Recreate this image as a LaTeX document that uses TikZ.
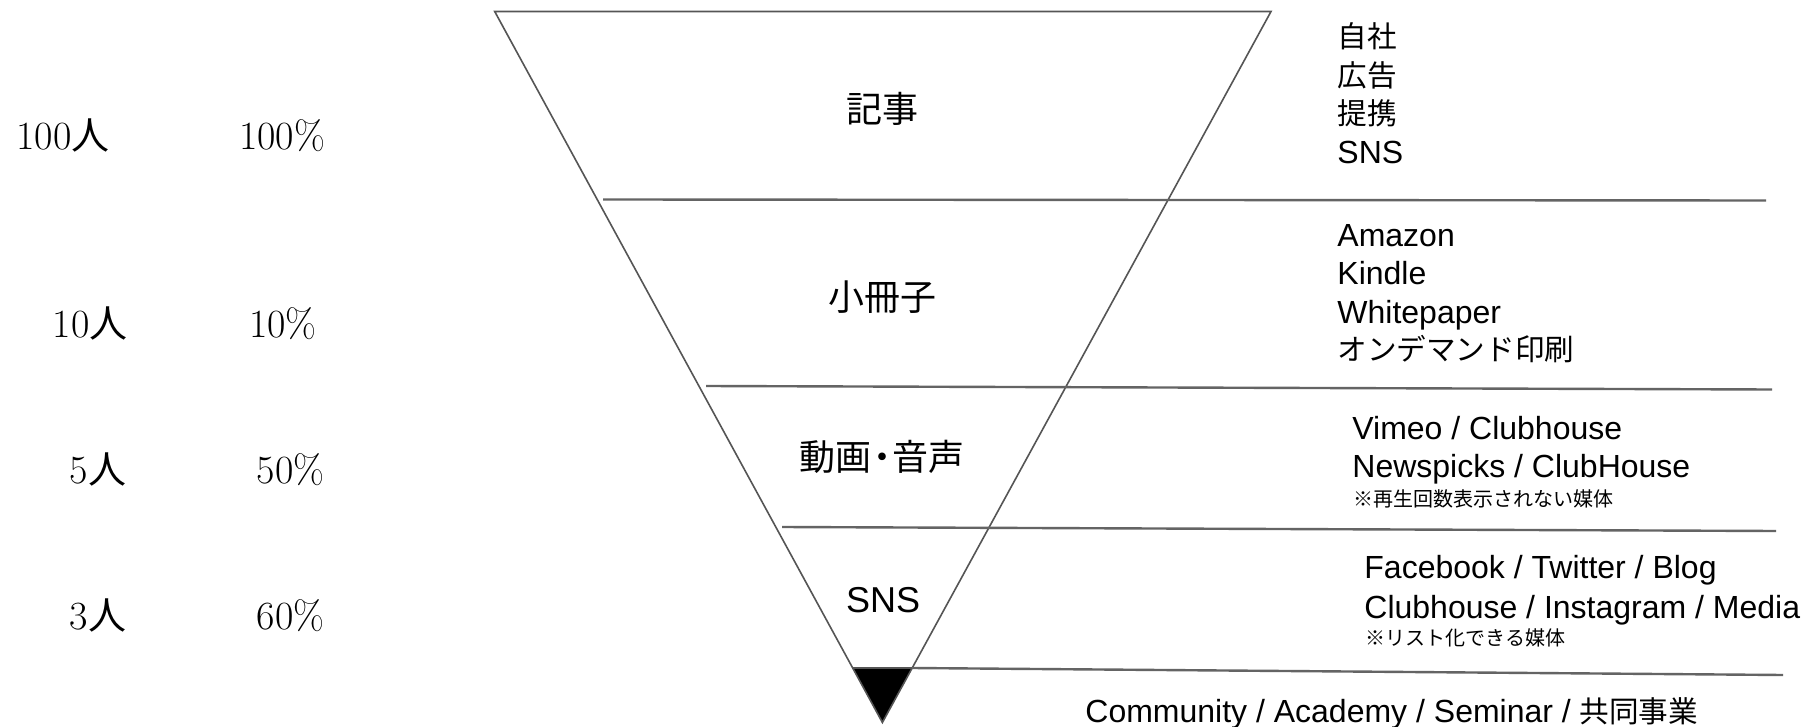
\documentclass[tikz,border=0pt]{standalone}
\usepackage{fontspec}
\setmainfont{Liberation Sans}
\newfontfamily\jp{Noto Sans CJK JP}
\newfontfamily\lmr{Latin Modern Roman}
\definecolor{edgegray}{RGB}{85,85,85}
\definecolor{sepgray}{RGB}{100,100,100}
\newcommand{\jpr}{\jp\fontsize{14.8pt}{19pt}\selectfont}
\tikzset{
  funnel/.style={draw=edgegray, line width=0.8pt, line join=miter},
  sepline/.style={draw=sepgray, line width=1.2pt},
  rtext/.style={anchor=base west, inner sep=0pt, font=\fontsize{16pt}{19pt}\selectfont},
  flabel/.style={anchor=base, inner sep=0pt, font=\fontsize{18pt}{22pt}\selectfont},
  note/.style={anchor=base west, inner sep=0pt, font=\jp\fontsize{10pt}{12pt}\selectfont},
  lnum/.style={anchor=base, inner sep=0pt, font=\lmr\fontsize{20pt}{24pt}\selectfont}
}
\begin{document}
\begin{tikzpicture}[x=0.5pt,y=-0.5pt]
\useasboundingbox (0,0) rectangle (1804,727);
\fill[white] (0,0) rectangle (1804,727);

% funnel
\coordinate (TL) at (494.7,11.5);
\coordinate (TR) at (1271,11.5);
\coordinate (AP) at (882.4,722.5);
\coordinate (BL) at (852.6,668);
\coordinate (BR) at (912.2,668);
\fill[black] (BL) -- (BR) -- (AP) -- cycle;
\draw[funnel] (TL) -- (TR) -- (AP) -- cycle;
\draw[funnel] (BL) -- (BR);

% separator lines
\coordinate (S1a) at (603,199.5);  \coordinate (S1b) at (1766,200.5);
\coordinate (S2a) at (706,386);    \coordinate (S2b) at (1772,389.5);
\coordinate (S3a) at (782,527);    \coordinate (S3b) at (1776,531);
\coordinate (S4b) at (1783,675);
\draw[sepline] (S1a) -- (S1b);
\draw[sepline] (S2a) -- (S2b);
\draw[sepline] (S3a) -- (S3b);
\draw[sepline] (BR) -- (S4b);

% funnel labels
\node[flabel] (f1) at (882,123) {\jp 記事};
\node[flabel] (f2) at (882,311) {\jp 小冊子};
\node[flabel] (f3) at (882,470) {\jp 動画\kern-0.2em・\kern-0.2em音声};
\node[flabel] (f4) at (883,612) {SNS};

% left numbers
\node[lnum] (n1) at (63,150) {100{\jp\fontsize{19pt}{24pt}\selectfont 人}};
\node[lnum] (n2) at (90,337) {10{\jp\fontsize{19pt}{24pt}\selectfont 人}};
\node[lnum] (n3) at (98,483) {5{\jp\fontsize{19pt}{24pt}\selectfont 人}};
\node[lnum] (n4) at (98,629) {3{\jp\fontsize{19pt}{24pt}\selectfont 人}};
\node[lnum] (p1) at (282,150) {100\%};
\node[lnum] (p2) at (283,337) {10\%};
\node[lnum] (p3) at (290.5,483) {50\%};
\node[lnum] (p4) at (290.5,629) {60\%};

% right texts, group 1
\node[rtext] (a1) at (1337,48) {\jpr 自社};
\node[rtext] (a2) at (1337,86.5) {\jpr 広告};
\node[rtext] (a3) at (1337,125) {\jpr 提携};
\node[rtext] (a4) at (1337,164) {SNS};
% group 2
\node[rtext] (b1) at (1337,247) {Amazon};
\node[rtext] (b2) at (1337,285) {Kindle};
\node[rtext] (b3) at (1337,323) {Whitepaper};
\node[rtext] (b4) at (1337,360) {\jpr オンデマンド印刷};
% group 3
\node[rtext] (c1) at (1352,439) {Vimeo / Clubhouse};
\node[rtext] (c2) at (1352,477) {Newspicks / ClubHouse};
\node[note]  (c3) at (1353,506) {※再生回数表示されない媒体};
% group 4
\node[rtext] (d1) at (1364,578) {Facebook / Twitter / Blog};
\node[rtext] (d2) at (1364,618) {Clubhouse / Instagram / Media};
\node[note]  (d3) at (1365,645) {※リスト化できる媒体};
% bottom
\node[rtext] (e1) at (1085,722) {Community / Academy / Seminar / {\jpr 共同事業}};
\end{tikzpicture}
\end{document}
